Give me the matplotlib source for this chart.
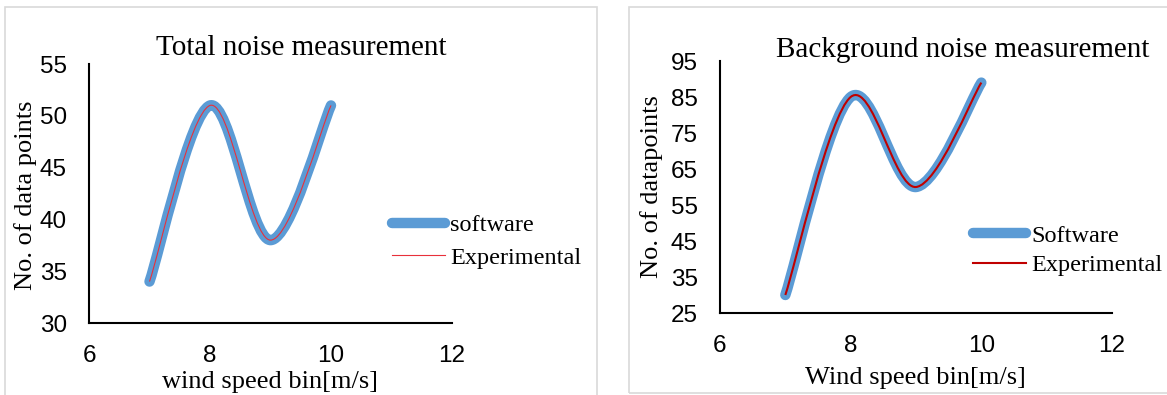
import matplotlib
matplotlib.use("Agg")
import matplotlib.pyplot as plt
from matplotlib.path import Path
from matplotlib.patches import PathPatch, Rectangle
from matplotlib.lines import Line2D
import numpy as np

# data
wind_speed = [7, 8, 9, 10]
total_software = [34, 51, 38, 51]
total_experimental = [34, 51, 38, 51]
bg_software = [30, 85, 60, 89]
bg_experimental = [30, 85, 60, 89]

x_ticks = [6, 8, 10, 12]
total_yticks = [30, 35, 40, 45, 50, 55]
bg_yticks = [25, 35, 45, 55, 65, 75, 85, 95]

W, H = 1167, 395
BLUE = "#5b9bd5"
serif = ["Liberation Serif", "DejaVu Serif"]
sans = ["Liberation Sans Narrow", "Liberation Sans", "DejaVu Sans"]


def smooth_path(xs, ys):
    # excel-like smoothed line: cubic bezier through the points
    pts = np.column_stack([xs, ys]).astype(float)
    n = len(pts)
    verts = [pts[0]]
    codes = [Path.MOVETO]
    for i in range(n - 1):
        p0 = pts[i - 1] if i > 0 else pts[i]
        p1 = pts[i]
        p2 = pts[i + 1]
        p3 = pts[i + 2] if i + 2 < n else pts[i + 1]
        c1 = p1 + (p2 - p0) / 6
        c2 = p2 - (p3 - p1) / 6
        verts += [c1, c2, p2]
        codes += [Path.CURVE4] * 3
    return Path(verts, codes)


def panel(rect, ys_soft, ys_exp, yticks, red, red_lw):
    ax = fig.add_axes(rect)
    ax.add_patch(PathPatch(smooth_path(wind_speed, ys_soft), fill=False,
                           edgecolor=BLUE, lw=7.5, capstyle="round", joinstyle="round"))
    ax.add_patch(PathPatch(smooth_path(wind_speed, ys_exp), fill=False,
                           edgecolor=red, lw=red_lw))
    ax.set_xlim(x_ticks[0], x_ticks[-1])
    ax.set_ylim(yticks[0], yticks[-1])
    ax.set_xticks(x_ticks)
    ax.set_yticks(yticks)
    for s in ["top", "right"]:
        ax.spines[s].set_visible(False)
    for s in ["left", "bottom"]:
        ax.spines[s].set_linewidth(1.5)
        ax.spines[s].set_color("black")
    ax.tick_params(length=0, pad=16, labelsize=17.5)
    for lab in ax.get_xticklabels() + ax.get_yticklabels():
        lab.set_family(sans)
    ax.patch.set_alpha(0)
    return ax


fig = plt.figure(figsize=(W / 100, H / 100), dpi=100)

# panel frames
fig.add_artist(Rectangle((5 / W, -0.05), 592 / W, 1.05 - 7 / H, transform=fig.transFigure,
                         fill=False, edgecolor="#d9d9d9", lw=1.2))
fig.add_artist(Rectangle((629 / W, 1 - 393 / H), 0.5, (393 - 7) / H, transform=fig.transFigure,
                         fill=False, edgecolor="#d9d9d9", lw=1.2))

ax1 = panel([89 / W, 1 - 323 / H, 363 / W, 259 / H], total_software, total_experimental,
            total_yticks, "#e8303a", 0.8)
ax2 = panel([720 / W, 1 - 313 / H, 392 / W, 252 / H], bg_software, bg_experimental,
            bg_yticks, "#c00000", 1.5)

fig.text(301 / W, 1 - 55 / H, "Total noise measurement", ha="center", va="baseline",
         family=serif, fontsize=21)
fig.text(963 / W, 1 - 57 / H, "Background noise measurement", ha="center", va="baseline",
         family=serif, fontsize=21)
fig.text(270 / W, 1 - 388 / H, "wind speed bin[m/s]", ha="center", va="baseline",
         family=serif, fontsize=19)
fig.text(915 / W, 1 - 384 / H, "Wind speed bin[m/s]", ha="center", va="baseline",
         family=serif, fontsize=19)
fig.text(26 / W, 1 - 195 / H, "No. of data points", ha="center", va="center",
         rotation=90, family=serif, fontsize=19)
fig.text(652 / W, 1 - 187 / H, "No. of datapoints", ha="center", va="center",
         rotation=90, family=serif, fontsize=19)

# legends
h1 = [Line2D([], [], color=BLUE, lw=7.5, solid_capstyle="round"),
      Line2D([], [], color="#e8303a", lw=0.8)]
fig.legend(h1, ["software", "Experimental"], loc="center left",
           bbox_to_anchor=(392 / W, 1 - 241.5 / H), frameon=False, borderpad=0,
           borderaxespad=0, handlelength=2.2, handletextpad=0.2, labelspacing=0.42,
           prop={"family": serif, "size": 17.5})
h2 = [Line2D([], [], color=BLUE, lw=7.5, solid_capstyle="round"),
      Line2D([], [], color="#c00000", lw=1.5)]
fig.legend(h2, ["Software", "Experimental"], loc="center left",
           bbox_to_anchor=(973 / W, 1 - 250.5 / H), frameon=False, borderpad=0,
           borderaxespad=0, handlelength=2.2, handletextpad=0.2, labelspacing=0.3,
           prop={"family": serif, "size": 17.5})

fig.savefig("out.png", dpi=100)
